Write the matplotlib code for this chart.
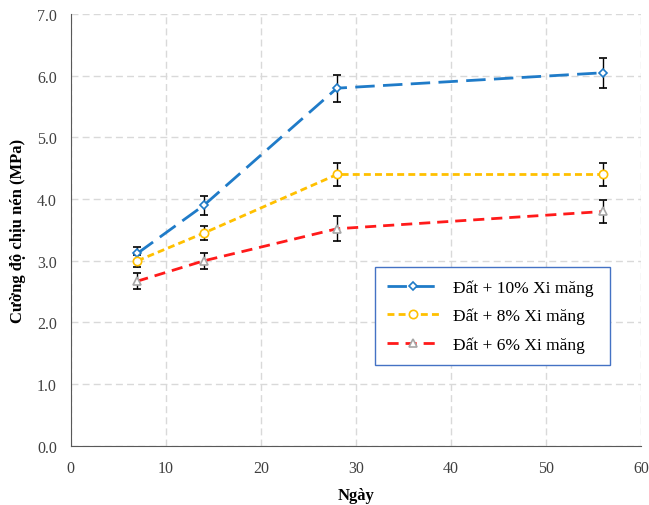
import numpy as np
import matplotlib.pyplot as plt
from matplotlib.lines import Line2D

plt.rcParams['font.family'] = ['Liberation Serif', 'DejaVu Serif']

days = [7, 14, 28, 56]
xm10 = [3.12, 3.90, 5.80, 6.05]
xm10_err = [0.10, 0.15, 0.22, 0.24]
xm8 = [3.00, 3.45, 4.40, 4.40]
xm8_err = [0.10, 0.12, 0.18, 0.18]
xm6 = [2.67, 3.00, 3.52, 3.80]
xm6_err = [0.13, 0.13, 0.20, 0.18]
labels = ['Đất + 10% Xi măng', 'Đất + 8% Xi măng', 'Đất + 6% Xi măng']

fig = plt.figure(figsize=(6.49, 5.06), dpi=100)
ax = fig.add_axes([0.109, 0.117, 0.879, 0.853])

# style per series: colour, dashes, marker, marker size, marker edge
styles = [
    ('#1f7bc8', (7, 3), 'D', 4, '#1f7bc8'),
    ('#ffc000', (2.5, 1.5), 'o', 6, '#ffc000'),
    ('#ff1a1a', (4, 2.5), '^', 6, '#a6a6a6'),
]
series = [(xm10, xm10_err), (xm8, xm8_err), (xm6, xm6_err)]

handles = []
for (vals, err), (c, d, m, ms, mec), lab in zip(series, styles, labels):
    ax.errorbar(days, vals, yerr=err, color=c, lw=2, dashes=d,
                marker=m, ms=ms, mfc='white', mec=mec, mew=1.2,
                ecolor='black', elinewidth=1, capsize=3, capthick=1, zorder=3)
    handles.append(Line2D([], [], color=c, lw=2, dashes=d, marker=m, ms=ms,
                          mfc='white', mec=mec, mew=1.2, label=lab))

ax.set_xlim(0, 60)
ax.set_ylim(0, 7)
ax.set_xticks(np.arange(0, 61, 10))
ax.set_yticks(np.arange(0, 7.1, 1))
ax.set_yticklabels([f'{v:.1f}' for v in np.arange(0, 7.1, 1)])
ax.grid(True, color='#d9d9d9', ls=(0, (5, 3)), lw=1)
ax.set_axisbelow(True)
for s in ['top', 'right']:
    ax.spines[s].set_visible(False)
for s in ['left', 'bottom']:
    ax.spines[s].set_color('#595959')
ax.tick_params(length=0, labelsize=11.5, colors='#404040', pad=10)
ax.set_xlabel('Ngày', fontsize=12, fontweight='bold', labelpad=8)
ax.set_ylabel('Cường độ chịu nén (MPa)', fontsize=12, fontweight='bold', labelpad=8)

leg = ax.legend(handles=handles, loc='upper left', bbox_to_anchor=(0.533, 0.19, 0.413, 0.224),
                mode='expand', fontsize=12.5, frameon=True, fancybox=False, handlelength=3,
                labelspacing=0.7, borderpad=0.7, borderaxespad=0, framealpha=1)
leg.get_frame().set_edgecolor('#4472c4')
leg.get_frame().set_linewidth(1)

fig.savefig('out.png', dpi=100)
